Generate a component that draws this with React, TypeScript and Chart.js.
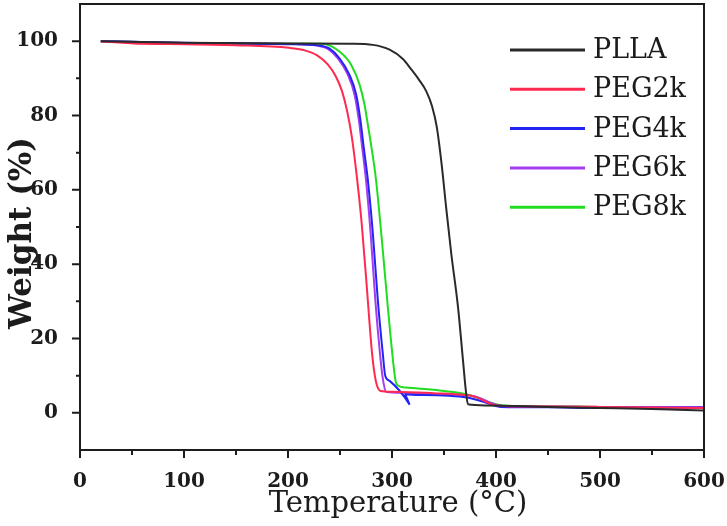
import React, { useEffect, useRef } from 'react';
import { Chart, registerables } from 'chart.js';
Chart.register(...registerables);

const seriesNames = ['PLLA', 'PEG2k', 'PEG4k', 'PEG6k', 'PEG8k'];
const seriesColors = ['#2a2a2a', '#ff2a50', '#2424f2', '#a43cf0', '#22dc22'];

const pllaT = [20, 100, 200, 260, 281.6, 297.7, 310.5, 318, 326, 333, 338.5, 343, 348, 352, 357, 363.5, 368.3, 371, 373, 390, 450, 500, 550, 600];
const pllaW = [100, 99.6, 99.4, 99.3, 99, 97.7, 95.2, 92.6, 89.6, 86.5, 82.5, 77, 66.2, 55.4, 42.8, 28.4, 14, 6, 2.3, 2.0, 1.6, 1.3, 1.0, 0.6];

const peg2kT = [20, 60, 100, 150, 201, 215, 228, 238, 246, 252, 257, 261.5, 266, 271, 276, 281, 284.5, 289, 300, 340, 370, 380, 397, 410, 450, 500, 600];
const peg2kW = [100, 99.3, 99.2, 98.9, 98.2, 97.6, 96.2, 93.8, 90.5, 86.5, 81, 74, 64, 50.5, 33, 15.5, 8.5, 5.9, 5.7, 5.3, 4.8, 4.3, 2.2, 1.8, 1.7, 1.6, 1.3];

const peg4kT = [20, 100, 200, 230, 240, 249.5, 259, 265.6, 269.5, 273, 276.8, 281.6, 286.4, 291.2, 293.5, 297.7, 317, 312, 330, 355, 372, 390, 405, 450, 500, 600];
const peg4kW = [100, 99.5, 99.2, 98.8, 98.0, 95.4, 91, 85.6, 79, 71, 62.6, 48.2, 30.2, 15.8, 10, 8.6, 2.2, 5.0, 4.8, 4.6, 4.1, 2.8, 1.6, 1.5, 1.3, 1.4];

const peg6kT = [20, 100, 200, 228, 238, 248, 257.5, 264, 268, 271.5, 275, 279.5, 284, 288.5, 291, 294.5, 310, 340, 370, 380, 400, 410, 450, 500, 600];
const peg6kW = [100, 99.6, 99.3, 98.8, 98, 95.4, 91, 85.6, 79, 71, 62.6, 48.2, 30.2, 15.8, 9.5, 5.6, 5.4, 5.1, 4.8, 4.4, 2.2, 1.7, 1.7, 1.6, 1.6];

const peg8kT = [20, 100, 200, 233, 249.5, 260.8, 268.8, 273.6, 276.8, 280.5, 284.5, 289.7, 296, 301, 303.5, 306, 313.7, 340, 371.5, 385, 394, 410, 450, 500, 600];
const peg8kW = [100, 99.5, 99.3, 99.3, 97.2, 93.6, 88.3, 82.9, 77.5, 71, 63, 48.2, 28.4, 14, 8.5, 7.3, 6.8, 6.2, 5.0, 3.8, 2.8, 1.9, 1.8, 1.6, 1.5];

const seriesT = [pllaT, peg2kT, peg4kT, peg6kT, peg8kT];
const seriesW = [pllaW, peg2kW, peg4kW, peg6kW, peg8kW];

const xMajorTicks = [0, 100, 200, 300, 400, 500, 600];
const xMinorTicks = [50, 150, 250, 350, 450, 550];
const yMajorTicks = [0, 20, 40, 60, 80, 100];
const yMinorTicks = [10, 30, 50, 70, 90];

const xTitle = 'Temperature (°C)';
const yTitle = 'Weight (%)';

const INK = '#1c1c1c';

const framePlugin = {
  id: 'frameAndLegend',
  afterDraw(chart: any) {
    const { ctx, chartArea } = chart;
    const { left, right, top, bottom } = chartArea;
    const xs = chart.scales.x;
    const ys = chart.scales.y;
    ctx.save();
    ctx.strokeStyle = INK;
    ctx.lineWidth = 2;
    ctx.strokeRect(left, top, right - left, bottom - top);
    ctx.beginPath();
    yMajorTicks.forEach((v) => {
      const p = ys.getPixelForValue(v);
      ctx.moveTo(left - 8, p);
      ctx.lineTo(left, p);
    });
    yMinorTicks.forEach((v) => {
      const p = ys.getPixelForValue(v);
      ctx.moveTo(left - 4, p);
      ctx.lineTo(left, p);
    });
    xMajorTicks.forEach((v) => {
      const p = xs.getPixelForValue(v);
      ctx.moveTo(p, bottom);
      ctx.lineTo(p, bottom + 8);
    });
    xMinorTicks.forEach((v) => {
      const p = xs.getPixelForValue(v);
      ctx.moveTo(p, bottom);
      ctx.lineTo(p, bottom + 5);
    });
    ctx.stroke();

    // axis titles
    ctx.fillStyle = INK;
    ctx.font = '29px "DejaVu Serif"';
    ctx.textAlign = 'center';
    ctx.textBaseline = 'alphabetic';
    ctx.fillText(xTitle, 398, 512);
    ctx.save();
    ctx.translate(31, 233);
    ctx.rotate(-Math.PI / 2);
    ctx.font = 'bold 31px "DejaVu Serif"';
    ctx.fillText(yTitle, 0, 0);
    ctx.restore();

    // legend
    ctx.font = '27px "DejaVu Serif"';
    ctx.textBaseline = 'middle';
    ctx.textAlign = 'left';
    chart.data.datasets.forEach((ds: any, i: number) => {
      const y = 50 + i * 39.3;
      ctx.strokeStyle = ds.borderColor;
      ctx.lineWidth = 3;
      ctx.beginPath();
      ctx.moveTo(510, y);
      ctx.lineTo(585, y);
      ctx.stroke();
      ctx.fillStyle = INK;
      ctx.fillText(ds.label, 593, y + 1);
    });
    ctx.restore();
  },
};

export default function App() {
  const ref = useRef<HTMLCanvasElement | null>(null);
  useEffect(() => {
    if (!ref.current) return;
    const datasets = seriesNames.map((name, i) => ({
      label: name,
      data: seriesT[i].map((t, j) => ({ x: t, y: seriesW[i][j] })),
      borderColor: seriesColors[i],
      backgroundColor: seriesColors[i],
      borderWidth: 2,
      pointRadius: 0,
      cubicInterpolationMode: 'monotone',
      fill: false,
    }));
    const chart = new Chart(ref.current, {
      type: 'line',
      data: { datasets },
      options: {
        animation: false,
        responsive: false,
        maintainAspectRatio: false,
        layout: { padding: { top: 4, right: 23, left: 0, bottom: 0 } },
        plugins: { legend: { display: false }, tooltip: { enabled: false } },
        scales: {
          x: {
            type: 'linear',
            min: 0,
            max: 600,
            afterBuildTicks: (s: any) => {
              s.ticks = xMajorTicks.map((v) => ({ value: v }));
            },
            afterFit: (s: any) => {
              s.height = 76;
              s.paddingLeft = 0;
              s.paddingRight = 0;
            },
            grid: { display: false },
            border: { display: false },
            ticks: {
              font: { family: 'DejaVu Serif', weight: 'bold', size: 20 },
              color: INK,
              padding: 12,
              maxRotation: 0,
              autoSkip: false,
            },
            title: { display: false },
          },
          y: {
            type: 'linear',
            min: -10,
            max: 110,
            afterBuildTicks: (s: any) => {
              s.ticks = yMajorTicks.map((v) => ({ value: v }));
            },
            afterFit: (s: any) => {
              s.width = 80;
              s.paddingTop = 0;
              s.paddingBottom = 0;
            },
            grid: { display: false },
            border: { display: false },
            ticks: {
              font: { family: 'DejaVu Serif', weight: 'bold', size: 20 },
              color: INK,
              padding: 14,
              autoSkip: false,
            },
            title: { display: false },
          },
        },
      },
      plugins: [framePlugin],
    } as any);
    return () => chart.destroy();
  }, []);
  return (
    <div style={{ position: 'absolute', left: 0, top: 0, width: 727, height: 526, background: '#fff' }}>
      <canvas ref={ref} width={727} height={526} style={{ width: 727, height: 526, display: 'block' }} />
    </div>
  );
}
